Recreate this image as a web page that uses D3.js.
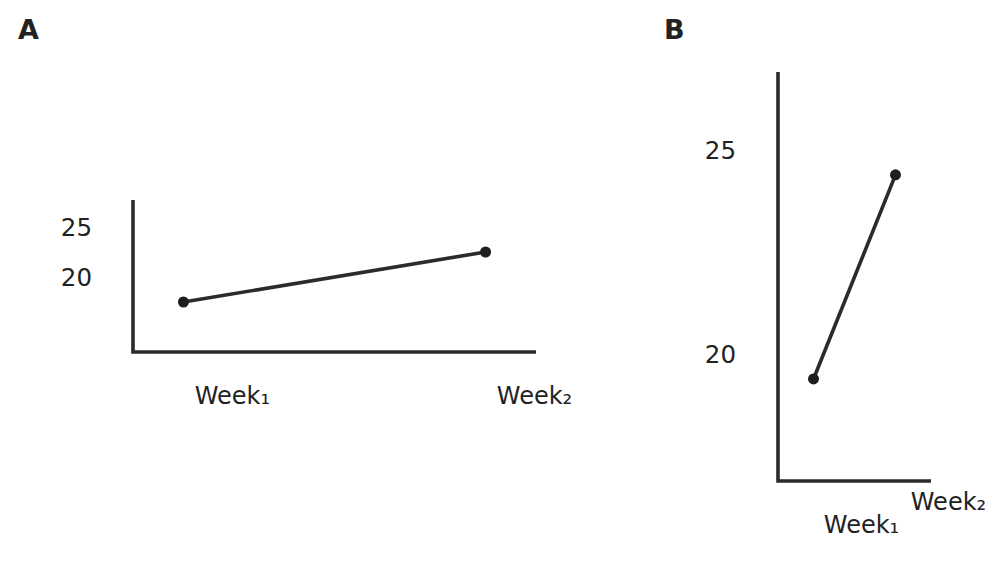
<!DOCTYPE html>
<html>
<head>
<meta charset="utf-8">
<script src="https://cdn.jsdelivr.net/npm/d3@7"></script>
<style>
  body { margin: 0; background: #fff; }
  text { font-family: "DejaVu Sans", sans-serif; fill: #222; }
</style>
</head>
<body>
<div class="chart"></div>
<script>
// data
const weeks = ["Week₁", "Week₂"];
const scores = [19.4, 24.4];
const tickValues = [20, 25];
const panelNames = ["A", "B"];

const ink = "#2b2b2b";

const svg = d3.select("div.chart")
    .append("svg")
    .attr("width", 1006)
    .attr("height", 576);

// same numbers, two very different axis stretches
const panels = [
    { name: panelNames[0], titleX: 18, left: 133, right: 536, top: 200, bottom: 352,
      domain: [14.4, 29.6], pad: 0.167, tickX: 92, tickDy: -19,
      labelDx: [49, 49], labelY: [404, 404] },
    { name: panelNames[1], titleX: 664, left: 778, right: 931, top: 72, bottom: 481,
      domain: [16.9, 26.92], pad: 0.433, tickX: 736, tickDy: 0,
      labelDx: [48, 53], labelY: [533, 510] }
];

panels.forEach(function(p) {
    const g = svg.append("g");

    const x = d3.scalePoint()
        .domain(weeks)
        .range([p.left, p.right])
        .padding(p.pad);

    const y = d3.scaleLinear()
        .domain(p.domain)
        .range([p.bottom, p.top]);

    // panel letter
    g.append("text")
        .attr("x", p.titleX)
        .attr("y", 39)
        .attr("font-size", "27px")
        .attr("font-weight", "700")
        .text(p.name);

    // axes, plain lines with no ticks
    g.append("path")
        .attr("d", "M" + p.left + "," + p.top + "V" + p.bottom + "H" + p.right)
        .attr("fill", "none")
        .attr("stroke", ink)
        .attr("stroke-width", 3.6);

    // y tick labels
    g.selectAll(".ylab")
        .data(tickValues)
        .enter()
        .append("text")
        .attr("x", p.tickX)
        .attr("y", d => y(d) + p.tickDy)
        .attr("dy", "0.35em")
        .attr("text-anchor", "end")
        .attr("font-size", "24.5px")
        .text(d => d);

    // x labels
    g.selectAll(".xlab")
        .data(weeks)
        .enter()
        .append("text")
        .attr("x", (d, i) => x(d) + p.labelDx[i])
        .attr("y", (d, i) => p.labelY[i])
        .attr("text-anchor", "middle")
        .attr("font-size", "24px")
        .text(d => d);

    // the line and its two points
    const line = d3.line()
        .x((d, i) => x(weeks[i]))
        .y(d => y(d));

    g.append("path")
        .datum(scores)
        .attr("d", line)
        .attr("fill", "none")
        .attr("stroke", ink)
        .attr("stroke-width", 3.6);

    g.selectAll(".dot")
        .data(scores)
        .enter()
        .append("circle")
        .attr("cx", (d, i) => x(weeks[i]))
        .attr("cy", d => y(d))
        .attr("r", 5.5)
        .attr("fill", "#1e1e1e");
});
</script>
</body>
</html>
